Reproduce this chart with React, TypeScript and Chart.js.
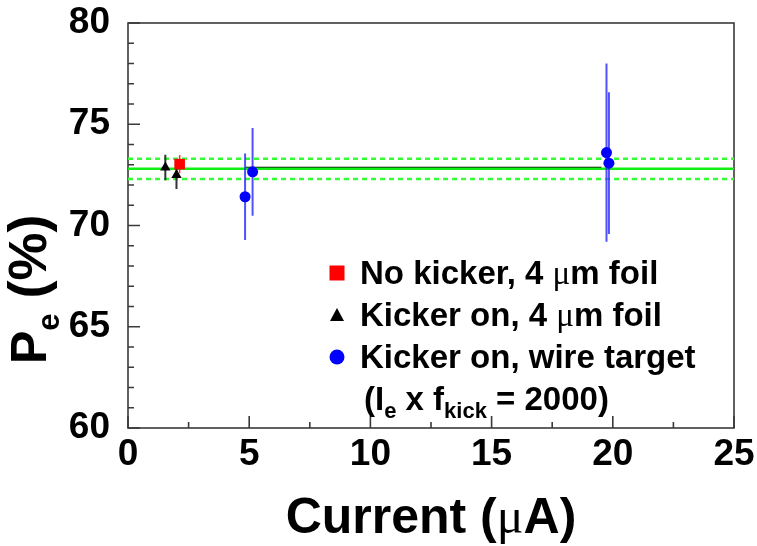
import { useEffect, useRef } from "react";
import { Chart, registerables } from "chart.js";

Chart.register(...registerables);

// ---- axis ranges and ticks ----
const X_MIN = 0;
const X_MAX = 25;
const Y_MIN = 60;
const Y_MAX = 80;
const xTickValues = [0, 5, 10, 15, 20, 25];
const yTickValues = [60, 65, 70, 75, 80];
const xMinorStep = 2.5;
const yMinorStep = 1;

// ---- data (current in µA, polarization in %) ----
const noKickerCurrent = [2.13];
const noKickerPol = [73.03];
const noKickerErr = [0.45];

const kickerFoilCurrent = [1.54, 2.0];
const kickerFoilPol = [72.86, 72.5];
const kickerFoilErr = [0.63, 0.7];

const wireCurrent = [4.83, 5.14, 19.74, 19.84];
const wirePol = [71.42, 72.65, 73.6, 73.08];
const wireErr = [2.13, 2.17, 4.4, 3.5];

const meanPol = 72.8;
const meanPolErr = 0.5;
const fitCurrentRange = [4.85, 19.53];
const fitPol = 72.87;

// ---- texts ----
const legendLabels = [
  "No kicker, 4 μm foil",
  "Kicker on, 4 μm foil",
  "Kicker on, wire target",
];
const xTitle = "Current (μA)";
const yTitleMain = "P";
const yTitleSub = "e";
const yTitleRest = " (%)";

const FONT = '"Liberation Sans", Arial, sans-serif';
const SERIF = '"Liberation Serif", serif';

type Run = { text: string; font: string; dy?: number };

function splitMu(text: string, size: number): Run[] {
  const runs: Run[] = [];
  const parts = text.split("μ");
  parts.forEach((p, i) => {
    if (p) runs.push({ text: p, font: `bold ${size}px ${FONT}` });
    if (i < parts.length - 1) runs.push({ text: "μ", font: `${size}px ${SERIF}` });
  });
  return runs;
}

function runsWidth(ctx: CanvasRenderingContext2D, runs: Run[]) {
  let w = 0;
  for (const r of runs) {
    ctx.font = r.font;
    w += ctx.measureText(r.text).width;
  }
  return w;
}

function drawRuns(ctx: CanvasRenderingContext2D, runs: Run[], x: number, y: number) {
  let cx = x;
  for (const r of runs) {
    ctx.font = r.font;
    ctx.fillText(r.text, cx, y + (r.dy || 0));
    cx += ctx.measureText(r.text).width;
  }
}

const framePlugin = {
  id: "rootFrame",
  beforeDatasetsDraw(chart: any) {
    const { ctx, chartArea: a, scales } = chart;
    const x = scales.x;
    const y = scales.y;
    ctx.save();
    ctx.strokeStyle = "#3a3a3a";
    ctx.lineWidth = 1.6;
    ctx.strokeRect(a.left, a.top, a.right - a.left, a.bottom - a.top);
    ctx.beginPath();
    for (let v = X_MIN; v <= X_MAX + 1e-9; v += xMinorStep) {
      const px = x.getPixelForValue(v);
      const major = xTickValues.some((t) => Math.abs(t - v) < 1e-9);
      const len = major ? 12 : 6;
      ctx.moveTo(px, a.bottom);
      ctx.lineTo(px, a.bottom - len);
    }
    for (let v = Y_MIN; v <= Y_MAX + 1e-9; v += yMinorStep) {
      const py = y.getPixelForValue(v);
      const major = yTickValues.some((t) => Math.abs(t - v) < 1e-9);
      const len = major ? 12 : 6;
      ctx.moveTo(a.left, py);
      ctx.lineTo(a.left + len, py);
    }
    ctx.stroke();
    ctx.restore();
  },
  beforeDatasetDraw(chart: any, args: any) {
    const ds: any = chart.data.datasets[args.index];
    if (!ds.errors) return;
    const { ctx, scales } = chart;
    const x = scales.x;
    const y = scales.y;
    ctx.save();
    ctx.strokeStyle = ds.errorColor;
    ctx.lineWidth = ds.errorWidth;
    ctx.beginPath();
    ds.data.forEach((p: any, i: number) => {
      const px = x.getPixelForValue(p.x);
      ctx.moveTo(px, y.getPixelForValue(p.y + ds.errors[i]));
      ctx.lineTo(px, y.getPixelForValue(p.y - ds.errors[i]));
    });
    ctx.stroke();
    ctx.restore();
  },
  afterDraw(chart: any) {
    const { ctx, chartArea: a } = chart;
    ctx.save();
    ctx.fillStyle = "#000";
    ctx.textBaseline = "alphabetic";
    ctx.textAlign = "left";

    // x title
    const xr = splitMu(xTitle, 50);
    const xw = runsWidth(ctx, xr);
    drawRuns(ctx, xr, (a.left + a.right) / 2 - xw / 2, 533);

    // y title (rotated)
    ctx.save();
    ctx.translate(46, 364);
    ctx.rotate(-Math.PI / 2);
    drawRuns(
      ctx,
      [
        { text: yTitleMain, font: `bold 50px ${FONT}` },
        { text: yTitleSub, font: `bold 31px ${FONT}`, dy: 13 },
        { text: yTitleRest, font: `bold 54px ${FONT}` },
      ],
      0,
      0
    );
    ctx.restore();

    // legend
    const lx = 337;
    const tx = 360;
    const base = [284, 326, 368];
    ctx.fillStyle = "#ff0000";
    ctx.fillRect(lx - 7.5, base[0] - 11 - 7.5, 15, 15);
    ctx.fillStyle = "#000";
    ctx.beginPath();
    const ty = base[1] - 11;
    ctx.moveTo(lx, ty - 7);
    ctx.lineTo(lx + 7, ty + 6);
    ctx.lineTo(lx - 7, ty + 6);
    ctx.closePath();
    ctx.fill();
    ctx.fillStyle = "#0000ff";
    ctx.beginPath();
    ctx.arc(lx, base[2] - 11, 7.5, 0, Math.PI * 2);
    ctx.fill();

    ctx.fillStyle = "#000";
    legendLabels.forEach((lab, i) => {
      drawRuns(ctx, splitMu(lab, 33), tx, base[i]);
    });
    const note: Run[] = [
      { text: "(I", font: `bold 33px ${FONT}` },
      { text: "e", font: `bold 22px ${FONT}`, dy: 8 },
      { text: " x f", font: `bold 33px ${FONT}` },
      { text: "kick", font: `bold 22px ${FONT}`, dy: 8 },
      { text: " = 2000)", font: `bold 33px ${FONT}` },
    ];
    drawRuns(ctx, note, 364, 410);
    ctx.restore();
  },
};

function pts(xs: number[], ys: number[]) {
  return xs.map((v, i) => ({ x: v, y: ys[i] }));
}

export default function App() {
  const ref = useRef<HTMLCanvasElement | null>(null);
  useEffect(() => {
    document.body.style.margin = "0";
    const canvas = ref.current!;
    Chart.defaults.font.family = FONT;
    const chart = new Chart(canvas, {
      type: "scatter",
      data: {
        datasets: [
          {
            label: legendLabels[2],
            data: pts(wireCurrent, wirePol),
            pointStyle: "circle",
            pointRadius: 5.5,
            backgroundColor: "#0000ff",
            borderColor: "#0000ff",
            borderWidth: 0,
            order: 1,
            errors: wireErr,
            errorColor: "rgba(50,50,255,0.85)",
            errorWidth: 2,
          } as any,
          {
            label: legendLabels[1],
            data: pts(kickerFoilCurrent, kickerFoilPol),
            pointStyle: "triangle",
            pointRadius: 6,
            backgroundColor: "#000",
            borderColor: "#000",
            borderWidth: 0,
            order: 2,
            errors: kickerFoilErr,
            errorColor: "#333",
            errorWidth: 2,
          } as any,
          {
            label: legendLabels[0],
            data: pts(noKickerCurrent, noKickerPol),
            pointStyle: "rect",
            pointRadius: 7.5,
            backgroundColor: "#ff0000",
            borderColor: "#ff0000",
            borderWidth: 0,
            order: 0,
            errors: noKickerErr,
            errorColor: "#ff3030",
            errorWidth: 1.5,
          } as any,
          {
            label: "mean",
            data: [
              { x: X_MIN, y: meanPol },
              { x: X_MAX, y: meanPol },
            ],
            showLine: true,
            pointRadius: 0,
            borderColor: "#11ee11",
            borderWidth: 2.5,
            order: 5,
          },
          {
            label: "fit",
            data: [
              { x: fitCurrentRange[0], y: fitPol },
              { x: fitCurrentRange[1], y: fitPol },
            ],
            showLine: true,
            pointRadius: 0,
            borderColor: "#000",
            borderWidth: 1.5,
            order: 6,
          },
          {
            label: "mean+err",
            data: [
              { x: X_MIN, y: meanPol + meanPolErr },
              { x: X_MAX, y: meanPol + meanPolErr },
            ],
            showLine: true,
            pointRadius: 0,
            borderColor: "#33ff33",
            borderWidth: 2.5,
            borderDash: [5, 4],
            order: 7,
          },
          {
            label: "mean-err",
            data: [
              { x: X_MIN, y: meanPol - meanPolErr },
              { x: X_MAX, y: meanPol - meanPolErr },
            ],
            showLine: true,
            pointRadius: 0,
            borderColor: "#33ff33",
            borderWidth: 2.5,
            borderDash: [5, 4],
            order: 7,
          },
        ],
      },
      options: {
        responsive: false,
        animation: false,
        events: [],
        layout: { padding: { top: 23, right: 23, left: 0, bottom: 0 } },
        plugins: {
          legend: { display: false },
          tooltip: { enabled: false },
        },
        scales: {
          x: {
            type: "linear",
            min: X_MIN,
            max: X_MAX,
            afterBuildTicks: (s: any) => {
              s.ticks = xTickValues.map((v) => ({ value: v }));
            },
            afterFit: (s: any) => {
              s.height = 118;
              s.paddingLeft = 0;
              s.paddingRight = 0;
            },
            grid: { display: false, drawTicks: false },
            border: { display: false },
            ticks: {
              color: "#000",
              font: { size: 37, weight: "bold", family: FONT },
              padding: 5,
              maxRotation: 0,
              autoSkip: false,
            },
          },
          y: {
            type: "linear",
            min: Y_MIN,
            max: Y_MAX,
            afterBuildTicks: (s: any) => {
              s.ticks = yTickValues.map((v) => ({ value: v }));
            },
            afterFit: (s: any) => {
              s.width = 128;
              s.paddingTop = 0;
              s.paddingBottom = 0;
            },
            grid: { display: false, drawTicks: false },
            border: { display: false },
            ticks: {
              color: "#000",
              font: { size: 37, weight: "bold", family: FONT },
              padding: 18,
              autoSkip: false,
            },
          },
        },
      },
      plugins: [framePlugin],
    } as any);
    return () => chart.destroy();
  }, []);
  return (
    <div style={{ position: "absolute", left: 0, top: 0, width: 757, height: 546, background: "#fff" }}>
      <canvas ref={ref} width={757} height={546} style={{ display: "block" }} />
    </div>
  );
}
